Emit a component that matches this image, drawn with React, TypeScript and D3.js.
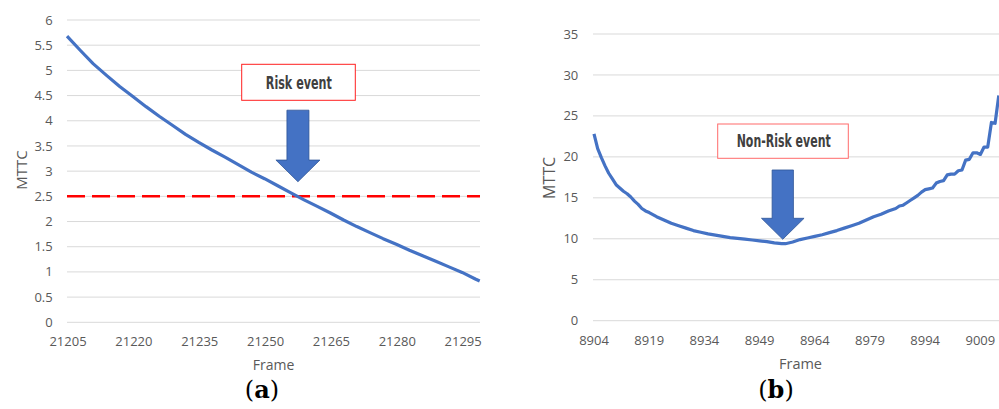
import React from "react";
import * as d3 from "d3";

// ---------- Panel (a) data ----------
const leftFrames = [
  21205, 21208, 21211, 21214, 21217, 21220, 21223, 21226, 21229, 21232, 21235,
  21238, 21241, 21244, 21247, 21250, 21253, 21256, 21259, 21262, 21265, 21268,
  21271, 21274, 21277, 21280, 21283, 21286, 21289, 21292, 21295, 21298, 21299,
];
const leftMTTC = [
  5.68, 5.4, 5.13, 4.9, 4.68, 4.48, 4.28, 4.09, 3.91, 3.73, 3.57, 3.42, 3.28,
  3.13, 2.98, 2.85, 2.71, 2.57, 2.43, 2.3, 2.17, 2.03, 1.9, 1.78, 1.66, 1.55,
  1.43, 1.32, 1.21, 1.1, 0.99, 0.86, 0.82,
];
const leftYTicks = [0, 0.5, 1, 1.5, 2, 2.5, 3, 3.5, 4, 4.5, 5, 5.5, 6];
const leftXTicks = [21205, 21220, 21235, 21250, 21265, 21280, 21295];
const riskThreshold = 2.5;
const leftEventLabel = "Risk event";

// ---------- Panel (b) data ----------
const rightFrames = [
  8904, 8905, 8906, 8907, 8908, 8909, 8910, 8911, 8912, 8913, 8914, 8915, 8916,
  8917, 8918, 8919, 8921, 8923, 8925, 8927, 8929, 8931, 8933, 8935, 8937, 8939,
  8941, 8943, 8945, 8947, 8949, 8951, 8953, 8955, 8956, 8958, 8960, 8962, 8964,
  8966, 8968, 8970, 8972, 8974, 8976, 8978, 8980, 8982, 8984, 8986, 8987, 8988,
  8989, 8990, 8991, 8992, 8993, 8994, 8995, 8996, 8997, 8998, 8999, 9000, 9001,
  9002, 9003, 9004, 9005, 9006, 9007, 9008, 9009, 9010, 9011, 9012, 9013, 9014,
];
const rightMTTC = [
  22.8, 21.0, 19.9, 18.9, 18.0, 17.3, 16.6, 16.2, 15.8, 15.5, 15.1, 14.6, 14.2,
  13.7, 13.4, 13.2, 12.7, 12.3, 11.9, 11.6, 11.3, 11.0, 10.8, 10.6, 10.45, 10.3,
  10.15, 10.05, 9.95, 9.85, 9.75, 9.65, 9.5, 9.4, 9.4, 9.6, 9.9, 10.1, 10.3,
  10.5, 10.75, 11.0, 11.3, 11.6, 11.9, 12.3, 12.7, 13.0, 13.4, 13.7, 14.0, 14.1,
  14.4, 14.7, 15.0, 15.3, 15.7, 16.0, 16.1, 16.2, 16.8, 17.0, 17.1, 17.8, 17.9,
  17.9, 18.3, 18.4, 19.6, 19.7, 20.5, 20.5, 20.3, 21.2, 21.2, 24.2, 24.1, 27.5,
];
const rightYTicks = [0, 5, 10, 15, 20, 25, 30, 35];
const rightXTicks = [8904, 8919, 8934, 8949, 8964, 8979, 8994, 9009];
const rightEventLabel = "Non-Risk event";

// ---------- styles ----------
const LINE = "#4472C4";
const GRID = "#D9D9D9";
const TXT = "#595959";
const FONT = "'Open Sans', 'Noto Sans', sans-serif";
const BOXFONT = "'Liberation Sans Narrow', 'DejaVu Sans Condensed', 'Roboto', sans-serif";

function arrowPath(tipX: number, tipY: number, headTop: number, shaftTop: number, shaftW: number, headW: number) {
  const p = d3.path();
  p.moveTo(tipX - shaftW / 2, shaftTop);
  p.lineTo(tipX + shaftW / 2, shaftTop);
  p.lineTo(tipX + shaftW / 2, headTop);
  p.lineTo(tipX + headW / 2, headTop);
  p.lineTo(tipX, tipY);
  p.lineTo(tipX - headW / 2, headTop);
  p.lineTo(tipX - shaftW / 2, headTop);
  p.closePath();
  return p.toString();
}

export default function App() {
  // Panel (a) scales
  const xL = d3.scaleLinear().domain([21205, 21299]).range([67, 479.7]);
  const yL = d3.scaleLinear().domain([0, 6]).range([322.3, 20]);
  const lineL = d3
    .line<number>()
    .x((_, i) => xL(leftFrames[i]))
    .y((d) => yL(d));

  // Panel (b) scales
  const xR = d3.scaleLinear().domain([8904, 9013]).range([594, 995.1]);
  const yR = d3.scaleLinear().domain([0, 35]).range([320.7, 34]);
  const lineR = d3
    .line<number>()
    .x((_, i) => xR(rightFrames[i]))
    .y((d) => yR(d));

  // annotation anchors (data units)
  const aTip = { f: 21257.6, v: 2.79, head: 3.22, shaft: 4.21 };
  const bTip = { f: 8955.3, v: 9.94, head: 12.5, shaft: 18.4 };

  return (
    <svg
      width={999}
      height={409}
      style={{ position: "absolute", left: 0, top: 0, background: "#fff" }}
    >
      <rect x={0} y={0} width={999} height={409} fill="#fff" />

      {/* ===== Panel (a) ===== */}
      <g>
        {leftYTicks.map((t) => (
          <g key={"lg" + t}>
            <line x1={67} x2={480} y1={yL(t)} y2={yL(t)} stroke={GRID} strokeWidth={1} />
            <text
              x={52.7}
              y={yL(t)}
              dy="0.35em"
              textAnchor="end"
              fontFamily={FONT}
              fontSize={13}
              fill={TXT}
            >
              {String(t)}
            </text>
          </g>
        ))}
        {leftXTicks.map((t) => (
          <text
            key={"lx" + t}
            x={xL(t) + 1}
            y={346}
            textAnchor="middle"
            fontFamily={FONT}
            fontSize={13}
            fill={TXT}
          >
            {t}
          </text>
        ))}
        <line
          x1={67}
          x2={480}
          y1={yL(riskThreshold)}
          y2={yL(riskThreshold)}
          stroke="#FF0000"
          strokeWidth={2.5}
          strokeDasharray="18 7"
        />
        <path d={lineL(leftMTTC) || ""} fill="none" stroke={LINE} strokeWidth={3.2} strokeLinejoin="round" />
        <text
          transform={`translate(27,170) rotate(-90)`}
          textAnchor="middle"
          fontFamily={FONT}
          fontSize={15}
          fill={TXT}
        >
          MTTC
        </text>
        <text x={273.5} y={370} textAnchor="middle" fontFamily={FONT} fontSize={14} fill={TXT}>
          Frame
        </text>
        <text x={262} y={398} textAnchor="middle" fontFamily="'DejaVu Serif', serif" fontSize={24} fill="#000">
          (<tspan fontWeight="bold">a</tspan>)
        </text>
        {/* annotation */}
        <rect x={241.7} y={64.3} width={113.6} height={36} fill="#fff" stroke="#FF2020" strokeWidth={1} />
        <text
          x={298.8}
          y={89.3}
          textAnchor="middle"
          fontFamily={BOXFONT}
          fontWeight="bold"
          fontSize={17.5}
          fill="#404040"
          textLength={66}
          lengthAdjust="spacingAndGlyphs"
        >
          {leftEventLabel}
        </text>
        <path
          d={arrowPath(xL(aTip.f), yL(aTip.v), yL(aTip.head), yL(aTip.shaft), 22, 44)}
          fill={LINE}
          stroke="#2F5597"
          strokeWidth={0.8}
        />
      </g>

      {/* ===== Panel (b) ===== */}
      <g>
        {rightYTicks.map((t) => (
          <g key={"rg" + t}>
            <line x1={593} x2={999} y1={yR(t)} y2={yR(t)} stroke={GRID} strokeWidth={1} />
            <text
              x={578.3}
              y={yR(t)}
              dy="0.35em"
              textAnchor="end"
              fontFamily={FONT}
              fontSize={13}
              fill={TXT}
            >
              {String(t)}
            </text>
          </g>
        ))}
        {rightXTicks.map((t) => (
          <text
            key={"rx" + t}
            x={xR(t)}
            y={345}
            textAnchor="middle"
            fontFamily={FONT}
            fontSize={13}
            fill={TXT}
          >
            {t}
          </text>
        ))}
        <path d={lineR(rightMTTC) || ""} fill="none" stroke={LINE} strokeWidth={3.2} strokeLinejoin="round" />
        <text
          transform={`translate(555,178) rotate(-90)`}
          textAnchor="middle"
          fontFamily={FONT}
          fontSize={16}
          fill={TXT}
        >
          MTTC
        </text>
        <text x={800.5} y={369} textAnchor="middle" fontFamily={FONT} fontSize={14.5} fill={TXT}>
          Frame
        </text>
        <text x={776} y={398} textAnchor="middle" fontFamily="'DejaVu Serif', serif" fontSize={24} fill="#000">
          (<tspan fontWeight="bold">b</tspan>)
        </text>
        <rect x={717.7} y={124} width={130.6} height={34.3} fill="#fff" stroke="#FF6B6B" strokeWidth={1} />
        <text
          x={783.7}
          y={146.7}
          textAnchor="middle"
          fontFamily={BOXFONT}
          fontWeight="bold"
          fontSize={17.5}
          fill="#404040"
          textLength={94}
          lengthAdjust="spacingAndGlyphs"
        >
          {rightEventLabel}
        </text>
        <path
          d={arrowPath(xR(bTip.f), yR(bTip.v), yR(bTip.head), yR(bTip.shaft), 21.3, 42.6)}
          fill={LINE}
          stroke="#2F5597"
          strokeWidth={0.8}
        />
      </g>
    </svg>
  );
}
